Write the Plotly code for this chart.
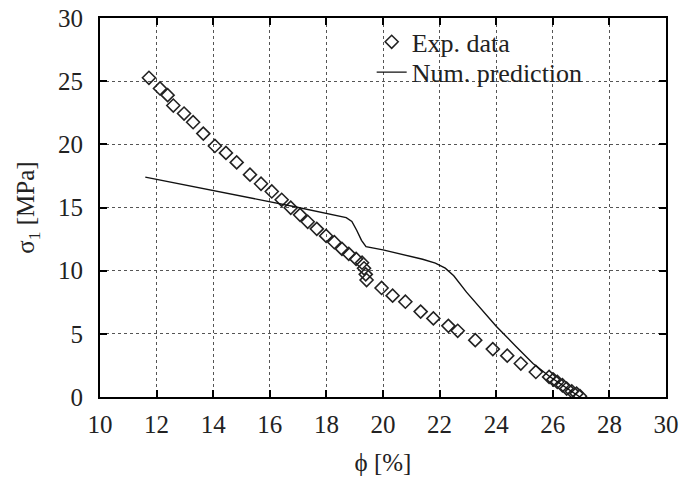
import plotly.graph_objects as go

exp_phi = [11.73, 12.12, 12.39, 12.59, 12.97, 13.29, 13.65, 14.06, 14.45, 14.83,
           15.30, 15.69, 16.07, 16.42, 16.74, 17.07, 17.34, 17.66, 17.99, 18.28,
           18.55, 18.79, 19.05, 19.26, 19.33, 19.39, 19.42, 19.95, 20.34, 20.79,
           21.33, 21.78, 22.31, 22.64, 23.26, 23.88, 24.39, 24.87, 25.40, 25.87,
           26.02, 26.16, 26.34, 26.49, 26.67, 26.84, 26.96]
exp_sigma = [25.27, 24.42, 23.89, 23.07, 22.44, 21.75, 20.85, 19.87, 19.32, 18.57,
             17.60, 16.88, 16.27, 15.61, 14.98, 14.42, 13.87, 13.31, 12.75, 12.25,
             11.72, 11.33, 10.93, 10.63, 10.19, 9.71, 9.26, 8.63, 8.02, 7.54,
             6.76, 6.22, 5.63, 5.24, 4.50, 3.79, 3.27, 2.65, 1.98, 1.59,
             1.38, 1.19, 0.93, 0.67, 0.45, 0.27, 0.06]

num_phi = [11.6, 15.3, 16.8, 18.7, 18.9, 19.07, 19.24, 19.4, 20.0, 21.4, 21.85,
           22.2, 22.5, 22.95, 23.5, 24.0, 24.7, 25.3, 25.9, 26.5, 26.96]
num_sigma = [17.4, 15.8, 15.1, 14.2, 13.9, 13.2, 12.4, 11.9, 11.65, 10.9, 10.6,
             10.2, 9.6, 8.3, 6.85, 5.6, 4.0, 2.65, 1.6, 0.67, 0.0]

x_ticks = [10, 12, 14, 16, 18, 20, 22, 24, 26, 28, 30]
y_ticks = [0, 5, 10, 15, 20, 25, 30]

FONT = "Liberation Serif, Times New Roman, serif"
TXT = "#222"

fig = go.Figure()
fig.add_trace(go.Scatter(
    x=exp_phi, y=exp_sigma, mode="markers", name="Exp. data", legend="legend",
    marker=dict(symbol="diamond-open", size=10, color="#222",
                line=dict(width=1.6, color="#222")),
))
fig.add_trace(go.Scatter(
    x=num_phi, y=num_sigma, mode="lines", name="Num. prediction", legend="legend2",
    line=dict(color="#111", width=1.4),
))

axis_common = dict(
    showline=True, linecolor="black", linewidth=2, mirror="ticks",
    ticks="inside", ticklen=7, tickwidth=2, tickcolor="black",
    showgrid=True, gridcolor="#555", griddash="dot", gridwidth=1,
    zeroline=False, automargin=False,
    tickfont=dict(family=FONT, size=25, color=TXT),
    title_font=dict(family=FONT, size=25, color=TXT),
)

fig.update_xaxes(range=[10, 30], tickvals=x_ticks, title_text="ϕ [%]",
                 title_standoff=16, ticklabelstandoff=4, **axis_common)
fig.update_yaxes(range=[0, 30], tickvals=y_ticks, title_text="σ<sub>1</sub> [MPa]",
                 title_standoff=16, ticklabelstandoff=10, **axis_common)

legend_common = dict(xanchor="left", yanchor="middle", bgcolor="rgba(0,0,0,0)",
                     borderwidth=0, font=dict(family=FONT, size=26, color=TXT),
                     itemwidth=30)

# white box behind the legend entries (covers grid lines, below traces)
fig.add_shape(type="rect", xref="paper", yref="paper",
              x0=0.445, x1=0.91, y0=0.826, y1=0.995,
              fillcolor="white", line=dict(width=0), layer="between")

fig.update_layout(
    width=683, height=477,
    margin=dict(l=100, r=17, t=18, b=80),
    plot_bgcolor="white", paper_bgcolor="white",
    font=dict(family=FONT, size=25, color=TXT),
    showlegend=True,
    legend=dict(x=0.48, y=0.937, **legend_common),
    legend2=dict(x=0.48, y=0.857, **legend_common),
)

fig.write_html("out.html", config={"displayModeBar": False},
               post_script="document.body.style.margin='0';document.body.style.padding='0';")
